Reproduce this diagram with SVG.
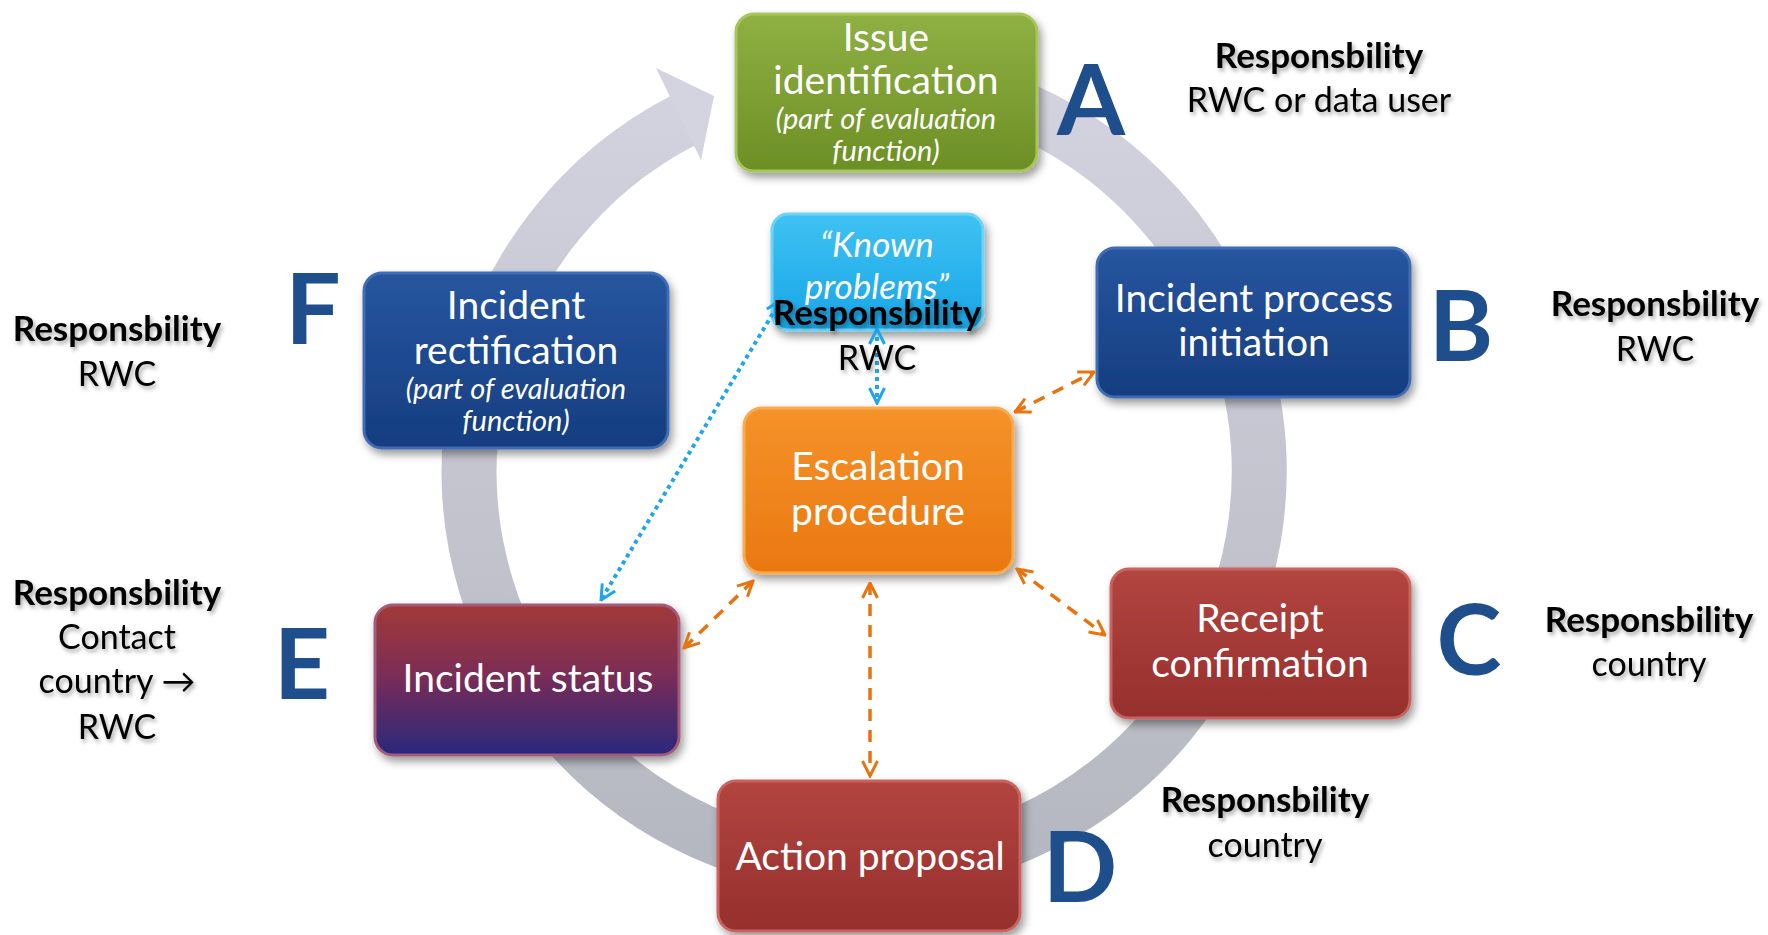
<svg xmlns="http://www.w3.org/2000/svg" width="1768" height="935" viewBox="0 0 1768 935">
<defs>
<style>
.lbl{font-family:Lato,"Open Sans","DejaVu Sans",sans-serif;fill:#fff;text-anchor:middle;font-size:39px}
.sub{font-family:Lato,"Open Sans","DejaVu Sans",sans-serif;fill:#fff;text-anchor:middle;font-size:29px;font-style:italic}
.rh{font-family:Lato,"Open Sans","DejaVu Sans",sans-serif;fill:#000;text-anchor:middle;font-size:35px;font-weight:bold}
.rt{font-family:Lato,"Open Sans","DejaVu Sans",sans-serif;fill:#000;text-anchor:middle;font-size:34px}
.let{font-family:Lato,"Open Sans","DejaVu Sans",sans-serif;fill:#1f4e8c;text-anchor:middle;font-size:98px;font-weight:bold}
.box{stroke-width:3}
.or{fill:none;stroke:#e8730f;stroke-width:3.5;stroke-dasharray:12 9}
.bl{fill:none;stroke:#1ea6ea;stroke-width:4;stroke-dasharray:4 4}
</style>
<filter id="sh" x="-10%" y="-10%" width="125%" height="130%"><feDropShadow dx="3" dy="5" stdDeviation="4" flood-color="#000" flood-opacity="0.4"/></filter>
<filter id="tsh" x="-10%" y="-20%" width="125%" height="150%"><feDropShadow dx="2" dy="3" stdDeviation="2" flood-color="#000" flood-opacity="0.35"/></filter>
<linearGradient id="gRing" gradientUnits="userSpaceOnUse" x1="0" y1="60" x2="0" y2="880"><stop offset="0" stop-color="#d4d3e0"/><stop offset="1" stop-color="#b4b7bf"/></linearGradient>
<linearGradient id="gGreen" x1="0" y1="0" x2="0" y2="1"><stop offset="0" stop-color="#8fb043"/><stop offset="1" stop-color="#6c8f25"/></linearGradient>
<linearGradient id="gBlue" x1="0" y1="0" x2="0" y2="1"><stop offset="0" stop-color="#2656a0"/><stop offset="1" stop-color="#163d80"/></linearGradient>
<linearGradient id="gRed" x1="0" y1="0" x2="0" y2="1"><stop offset="0" stop-color="#b24540"/><stop offset="1" stop-color="#962f2d"/></linearGradient>
<linearGradient id="gE" x1="0" y1="0" x2="0" y2="1"><stop offset="0" stop-color="#a23a38"/><stop offset="0.45" stop-color="#7d2d55"/><stop offset="1" stop-color="#29287d"/></linearGradient>
<linearGradient id="gCyan" x1="0" y1="0" x2="0" y2="1"><stop offset="0" stop-color="#3fc2f3"/><stop offset="1" stop-color="#17a5e6"/></linearGradient>
<linearGradient id="gOrange" x1="0" y1="0" x2="0" y2="1"><stop offset="0" stop-color="#f5922a"/><stop offset="1" stop-color="#ea7810"/></linearGradient>
<marker id="mo" viewBox="0 0 12 12" refX="11" refY="6" markerWidth="18" markerHeight="18" markerUnits="userSpaceOnUse" orient="auto-start-reverse"><path d="M1,1 L11,6 L1,11" fill="none" stroke="#e8730f" stroke-width="2"/></marker>
<marker id="mb" viewBox="0 0 12 12" refX="11" refY="6" markerWidth="18" markerHeight="18" markerUnits="userSpaceOnUse" orient="auto-start-reverse"><path d="M1,1 L11,6 L1,11" fill="none" stroke="#1ea6ea" stroke-width="2"/></marker>
</defs>
<rect width="1768" height="935" fill="#fff"/>

<g id="cycle-arrow">
<path d="M 1001 101 A 395 395 0 1 1 684 120" fill="none" stroke="url(#gRing)" stroke-width="55"/>
<polygon points="656,68 714,96 701,160" fill="#d4d3e0"/>
</g>

<g id="node-A">
<rect class="box" x="736" y="14" width="301" height="157" rx="18" fill="url(#gGreen)" stroke="#a6c65c" filter="url(#sh)"/>
<text class="lbl" x="886" y="51">Issue</text>
<text class="lbl" x="886" y="94">identification</text>
<text class="sub" x="886" y="129">(part of evaluation</text>
<text class="sub" x="886" y="161">function)</text>
</g>
<g id="node-B">
<rect class="box" x="1097" y="248" width="313" height="149" rx="18" fill="url(#gBlue)" stroke="#3f6cb4" filter="url(#sh)"/>
<text class="lbl" x="1254" y="312">Incident process</text>
<text class="lbl" x="1254" y="356">initiation</text>
</g>
<g id="node-C">
<rect class="box" x="1111" y="569" width="299" height="149" rx="18" fill="url(#gRed)" stroke="#c86460" filter="url(#sh)"/>
<text class="lbl" x="1260" y="632">Receipt</text>
<text class="lbl" x="1260" y="677">confirmation</text>
</g>
<g id="node-D">
<rect class="box" x="718" y="781" width="302" height="150" rx="18" fill="url(#gRed)" stroke="#c86460" filter="url(#sh)"/>
<text class="lbl" x="870" y="870">Action proposal</text>
</g>
<g id="node-E">
<rect class="box" x="375" y="605" width="304" height="150" rx="18" fill="url(#gE)" stroke="#a45a7a" filter="url(#sh)"/>
<text class="lbl" x="528" y="692">Incident status</text>
</g>
<g id="node-F">
<rect class="box" x="364" y="273" width="304" height="175" rx="18" fill="url(#gBlue)" stroke="#3f6cb4" filter="url(#sh)"/>
<text class="lbl" x="516" y="319">Incident</text>
<text class="lbl" x="516" y="364">rectification</text>
<text class="sub" x="516" y="399">(part of evaluation</text>
<text class="sub" x="516" y="431">function)</text>
</g>
<g id="node-known">
<rect class="box" x="772" y="214" width="211" height="116" rx="16" fill="url(#gCyan)" stroke="#6fd2f6" filter="url(#sh)"/>
<text class="sub" x="877" y="257" style="font-size:35px">“Known</text>
<text class="sub" x="877" y="299" style="font-size:35px">problems”</text>
</g>
<g id="node-escalation">
<rect class="box" x="744" y="408" width="269" height="165" rx="18" fill="url(#gOrange)" stroke="#f8ab50" filter="url(#sh)"/>
<text class="lbl" x="878" y="480">Escalation</text>
<text class="lbl" x="878" y="525">procedure</text>
</g>

<g id="connectors">
<line class="or" x1="1015" y1="412" x2="1094" y2="372" marker-start="url(#mo)" marker-end="url(#mo)"/>
<line class="or" x1="1017" y1="569" x2="1105" y2="635" marker-start="url(#mo)" marker-end="url(#mo)"/>
<line class="or" x1="870" y1="583" x2="870" y2="776" marker-start="url(#mo)" marker-end="url(#mo)"/>
<line class="or" x1="753" y1="581" x2="684" y2="648" marker-start="url(#mo)" marker-end="url(#mo)"/>
<line class="bl" x1="781" y1="300" x2="601" y2="600" marker-start="url(#mb)" marker-end="url(#mb)"/>
<line class="bl" x1="877" y1="329" x2="877" y2="403" marker-start="url(#mb)" marker-end="url(#mb)"/>
</g>

<g id="letters">
<text class="let" x="1091" y="135">A</text>
<text class="let" x="1461" y="361">B</text>
<text class="let" x="1469" y="675">C</text>
<text class="let" x="1080" y="902">D</text>
<text class="let" x="302" y="699">E</text>
<text class="let" x="313" y="344">F</text>
</g>

<g id="responsibilities" filter="url(#tsh)">
<text class="rh" x="1319" y="68">Responsbility</text>
<text class="rt" x="1319" y="112">RWC or data user</text>
<text class="rh" x="1655" y="316">Responsbility</text>
<text class="rt" x="1655" y="361">RWC</text>
<text class="rh" x="1649" y="632">Responsbility</text>
<text class="rt" x="1649" y="676">country</text>
<text class="rh" x="1265" y="812">Responsbility</text>
<text class="rt" x="1265" y="857">country</text>
<text class="rh" x="117" y="605">Responsbility</text>
<text class="rt" x="117" y="649">Contact</text>
<text class="rt" x="117" y="693">country →</text>
<text class="rt" x="117" y="739">RWC</text>
<text class="rh" x="117" y="341">Responsbility</text>
<text class="rt" x="117" y="386">RWC</text>
<text class="rh" x="877" y="325">Responsbility</text>
<text class="rt" x="877" y="370">RWC</text>
</g>
</svg>
